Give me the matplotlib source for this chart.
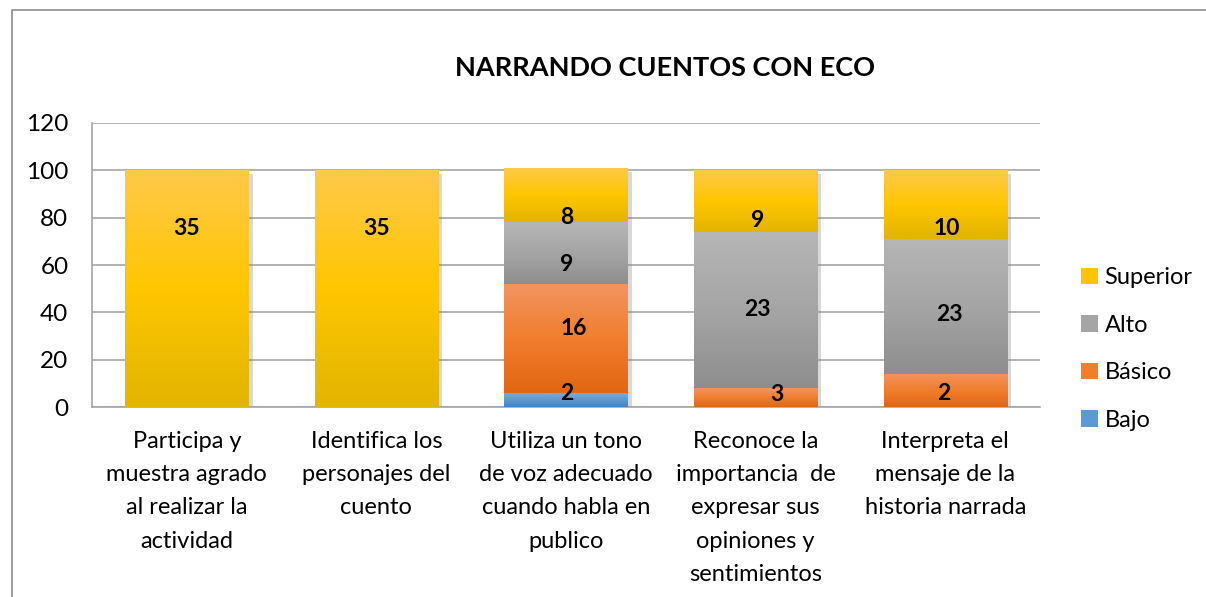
import numpy as np
import matplotlib
matplotlib.use("Agg")
import matplotlib.pyplot as plt
from matplotlib.colors import to_rgb
import matplotlib.patheffects as pe
from matplotlib.patches import Rectangle, Patch

categories = ["Participa y\nmuestra agrado\nal realizar la\nactividad",
              "Identifica los\npersonajes del\ncuento",
              "Utiliza un tono\nde voz adecuado\ncuando habla en\npublico",
              "Reconoce la\nimportancia  de\nexpresar sus\nopiniones y\nsentimientos",
              "Interpreta el\nmensaje de la\nhistoria narrada"]
series = ["Bajo", "Básico", "Alto", "Superior"]
# bar heights (percent) as drawn
bajo_pct = [0, 0, 6, 0, 0]
basico_pct = [0, 0, 46, 8, 14]
alto_pct = [0, 0, 26, 66, 57]
superior_pct = [100, 100, 23, 26, 29]
# data labels (counts of students)
bajo_lbl = [None, None, 2, None, None]
basico_lbl = [None, None, 16, 3, 2]
alto_lbl = [None, None, 9, 23, 23]
superior_lbl = [35, 35, 8, 9, 10]
yticks = [0, 20, 40, 60, 80, 100, 120]

# label placement (y in axis units, x offset in category units) -- layout only
lbl_y = {"Bajo": [0, 0, 6, 0, 0], "Básico": [0, 0, 33.4, 5.6, 6],
         "Alto": [0, 0, 60.4, 41.4, 39], "Superior": [75.6, 75.6, 80, 78.6, 75.6]}
lbl_dx = {"Bajo": [0, 0, 0.005, 0, 0], "Básico": [0, 0, 0.04, 0.11, -0.01],
          "Alto": [0, 0, 0.005, 0.01, 0.02], "Superior": [0, 0, 0.005, 0.01, 0.01]}

FONT = ["Lato", "DejaVu Sans"]
plt.rcParams['font.family'] = FONT

grad = {
    "Bajo": ["#7AAEE0", "#5B9BD5", "#3F84C6"],
    "Básico": ["#F39460", "#F07E2D", "#E26612"],
    "Alto": ["#B6B6B6", "#A5A5A5", "#8E8E8E"],
    "Superior": ["#FFC94A", "#FFC600", "#E2B500"],
}
solid = {k: v[1] for k, v in grad.items()}

W, H = 1206, 597
fig = plt.figure(figsize=(W/100, H/100), dpi=100)
fig.patches.append(Rectangle((12/W, -0.1), 1.2, 1 - 10/H + 0.1, transform=fig.transFigure,
                             fill=False, edgecolor="#8C8C8C", lw=1.2))
ax = fig.add_axes([92/W, (H-407.3)/H, (1040-92)/W, (407.3-122.7)/H])

x = np.arange(len(categories))
bw = 0.65
vals = {"Bajo": bajo_pct, "Básico": basico_pct, "Alto": alto_pct, "Superior": superior_pct}
lbls = {"Bajo": bajo_lbl, "Básico": basico_lbl, "Alto": alto_lbl, "Superior": superior_lbl}
bottom = np.zeros(len(categories))
for s in series:
    v = np.array(vals[s], dtype=float)
    bars = ax.bar(x, v, bw, bottom=bottom, color=solid[s], zorder=2, label=s,
                  path_effects=[pe.SimplePatchShadow(offset=(3, -3), shadow_rgbFace="#808080", alpha=0.3), pe.Normal()])
    c = np.array([to_rgb(cc) for cc in grad[s]])
    for r, val in zip(bars, v):
        if val <= 0:
            continue
        n = 64
        t = np.linspace(0, 1, n)[:, None]
        col = np.where(t < 0.5, c[0] + (c[1]-c[0])*(t/0.5), c[1] + (c[2]-c[1])*((t-0.5)/0.5))
        img = col[:, None, :]
        im = ax.imshow(img, extent=[r.get_x(), r.get_x()+r.get_width(), r.get_y(), r.get_y()+r.get_height()],
                       aspect="auto", origin="upper", zorder=3, interpolation="bilinear")
        im.set_clip_path(r)
    bottom += v

for s in series:
    for i, lab in enumerate(lbls[s]):
        if lab is None:
            continue
        ax.text(x[i] + lbl_dx[s][i], lbl_y[s][i], str(lab), ha="center", va="center",
                fontsize=16.5, fontweight="bold", color="black", zorder=5)

ax.set_xlim(-0.5, len(categories) - 0.5)
ax.set_ylim(0, 120)
ax.set_yticks(yticks)
ax.set_yticklabels([str(t) for t in yticks], fontsize=17.5)
ax.set_xticks(x)
ax.set_xticklabels(categories, fontsize=17, linespacing=1.72, va="top")
ax.tick_params(axis="both", length=0)
ax.tick_params(axis="y", pad=17)
ax.tick_params(axis="x", pad=17)
ax.grid(axis="y", color="#A6A6A6", lw=1.2, zorder=0)
ax.set_axisbelow(True)
for sp in ["top", "right"]:
    ax.spines[sp].set_visible(False)
for sp in ["left", "bottom"]:
    ax.spines[sp].set_color("#A6A6A6")
    ax.spines[sp].set_linewidth(1.2)

fig.text(665/W, 1 - 68/H, "NARRANDO CUENTOS CON ECO", ha="center", va="center",
         fontsize=19.5, fontweight="bold")

handles = [Patch(facecolor=solid[s]) for s in reversed(series)]
leg = fig.legend(handles, list(reversed(series)), loc="center left",
                 bbox_to_anchor=(1081/W, 1 - 349/H), frameon=False, fontsize=17,
                 handlelength=0.7, handleheight=0.7, handletextpad=0.3, labelspacing=1.12,
                 borderpad=0, borderaxespad=0)

fig.savefig("out.png", dpi=100)
